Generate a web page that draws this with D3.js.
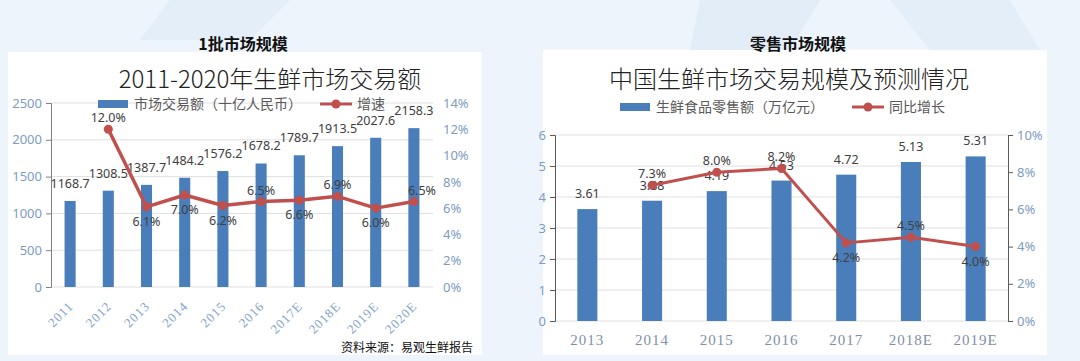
<!DOCTYPE html>
<html><head><meta charset="utf-8">
<script src="https://cdn.jsdelivr.net/npm/d3@7"></script>
<style>
html,body{margin:0;padding:0;background:#edf4fb;}
svg{display:block;}
</style></head>
<body>
<svg id="c" width="1080" height="361"></svg>
<script>
// ---- Data: left chart (wholesale market) ----
const leftYears = ["2011","2012","2013","2014","2015","2016","2017E","2018E","2019E","2020E"];
const leftValues = [1168.7,1308.5,1387.7,1484.2,1576.2,1678.2,1789.7,1913.5,2027.6,2158.3];
const leftGrowth = [null,12.0,6.1,7.0,6.2,6.5,6.6,6.9,6.0,6.5];
const leftGrowthLabelPos = [null,"above","below","below","below","above","below","above","below","right"];
const leftTicksL = [0,500,1000,1500,2000,2500];
const leftTicksR = [0,2,4,6,8,10,12,14];

// ---- Data: right chart (retail market) ----
const rightYears = ["2013","2014","2015","2016","2017","2018E","2019E"];
const rightValues = [3.61,3.88,4.19,4.53,4.72,5.13,5.31];
const rightGrowth = [null,7.3,8.0,8.2,4.2,4.5,4.0];
const rightGrowthLabelPos = [null,"above","above","above","below","above","below"];
const rightTicksL = [0,1,2,3,4,5,6];
const rightTicksR = [0,2,4,6,8,10];

const BAR = "#4a7ebb", LINE = "#c0504d", LBL = "#404040", AX = "#7d9cc2";
const SANS = "'Noto Sans','Open Sans',sans-serif";
const CJK = "'Noto Sans CJK SC','Noto Sans',sans-serif";
const SERIF = "'Liberation Serif','DejaVu Serif',serif";

const svg = d3.select("#c");

// background decoration
svg.append("rect").attr("width",1080).attr("height",361).attr("fill","#edf4fb");
svg.append("polygon").attr("points","170,0 290,0 250,40 140,40").attr("fill","#e3eef8");
svg.append("polygon").attr("points","700,0 820,0 790,50 690,50").attr("fill","#e2edf8");
svg.append("polygon").attr("points","890,0 1010,0 1040,50 930,50").attr("fill","#e4eef8");

// panels
svg.append("rect").attr("x",8).attr("y",52).attr("width",474).attr("height",303).attr("fill","#ffffff");
svg.append("rect").attr("x",543).attr("y",50).attr("width",504).attr("height",305).attr("fill","#ffffff");

// top titles
svg.append("text").attr("x",243).attr("y",50).attr("text-anchor","middle")
  .style("font-family",CJK).style("font-weight","bold").style("font-size","16px").attr("fill","#111").text("1批市场规模");
svg.append("text").attr("x",798).attr("y",50).attr("text-anchor","middle")
  .style("font-family",CJK).style("font-weight","bold").style("font-size","16px").attr("fill","#111").text("零售市场规模");

function drawChart(cfg){
  const g = svg.append("g");
  const x = d3.scaleBand().domain(cfg.years).range(cfg.xRange).padding(0);
  const yL = d3.scaleLinear().domain(cfg.lDomain).range(cfg.yRange);
  const yR = d3.scaleLinear().domain(cfg.rDomain).range(cfg.yRange);
  const cx = d => x(d) + x.bandwidth()/2;
  const bw = x.bandwidth()*cfg.barFrac;

  // gridlines
  g.append("g").selectAll("line").data(cfg.ticksL).join("line")
    .attr("x1",cfg.xRange[0]).attr("x2",cfg.xRange[1])
    .attr("y1",d=>yL(d)).attr("y2",d=>yL(d))
    .attr("stroke","#e0e0e0").attr("stroke-width",1);

  // left axis
  const axL = g.append("g").attr("transform",`translate(${cfg.xRange[0]},0)`)
    .call(d3.axisLeft(yL).tickValues(cfg.ticksL).tickFormat(d3.format("d")).tickSize(5).tickPadding(4));
  axL.select(".domain").attr("stroke",cfg.axisColor);
  axL.selectAll(".tick line").attr("stroke",cfg.axisColor);
  axL.selectAll("text").attr("fill",AX).style("font-family",SANS).style("font-size","13px");

  // right axis
  const axR = g.append("g").attr("transform",`translate(${cfg.rightAxisX},0)`)
    .call(d3.axisRight(yR).tickValues(cfg.ticksR).tickFormat(d=>d+"%").tickSize(cfg.rightTick).tickPadding(cfg.rightPad));
  axR.select(".domain").attr("stroke",cfg.rightLine ? cfg.axisColor : "none");
  axR.selectAll(".tick line").attr("stroke",cfg.rightLine ? cfg.axisColor : "none");
  axR.selectAll("text").attr("fill",AX).style("font-family",SANS).style("font-size","13px");

  // bars
  g.append("g").selectAll("rect").data(cfg.values).join("rect")
    .attr("x",(d,i)=>cx(cfg.years[i])-bw/2).attr("width",bw)
    .attr("y",d=>yL(d)).attr("height",d=>yL(0)-yL(d)).attr("fill",BAR);

  // bar labels
  g.append("g").selectAll("text").data(cfg.values).join("text")
    .attr("x",(d,i)=>cx(cfg.years[i])).attr("y",d=>yL(d)-cfg.barLblOff)
    .attr("text-anchor","middle").attr("fill",LBL)
    .style("font-family",SANS).style("font-size","12.5px")
    .text(d=>cfg.fmt(d));

  // x labels
  const xl = g.append("g").selectAll("text").data(cfg.years).join("text").attr("fill",cfg.xColor)
    .style("font-family",SERIF).style("font-size",cfg.xFont).style("letter-spacing","1px").text(d=>d);
  if(cfg.rotate){
    xl.attr("text-anchor","end").attr("transform",d=>`translate(${cx(d)+4},${cfg.yRange[0]+20}) rotate(-45)`);
  } else {
    xl.attr("text-anchor","middle").attr("x",d=>cx(d)).attr("y",cfg.yRange[0]+24);
  }

  // line
  const pts = cfg.growth.map((v,i)=>({v,i})).filter(d=>d.v!==null);
  g.append("path").datum(pts)
    .attr("d",d3.line().x(d=>cx(cfg.years[d.i])).y(d=>yR(d.v)))
    .attr("fill","none").attr("stroke",LINE).attr("stroke-width",cfg.lineW).attr("stroke-linejoin","round");
  g.append("g").selectAll("circle").data(pts).join("circle")
    .attr("cx",d=>cx(cfg.years[d.i])).attr("cy",d=>yR(d.v)).attr("r",4.5).attr("fill",LINE);
  g.append("g").selectAll("text").data(pts).join("text")
    .attr("x",d=>cx(cfg.years[d.i]) + (cfg.pos[d.i]==="right"?8:0))
    .attr("y",d=>yR(d.v) + (cfg.pos[d.i]==="below"?19:-7))
    .attr("text-anchor","middle").attr("fill",LBL)
    .style("font-family",SANS).style("font-size","12.5px")
    .text(d=>d.v.toFixed(1)+"%");

  // subtitle
  svg.append("text").attr("x",cfg.titleX).attr("y",88).attr("text-anchor","middle")
    .style("font-family",CJK).style("font-weight","300").style("font-size","24px").attr("fill","#222")
    .text(cfg.title);

  // legend
  const lg = svg.append("g").attr("transform",`translate(0,${cfg.legY})`);
  lg.append("rect").attr("x",cfg.leg[0]).attr("y",-4).attr("width",30).attr("height",8).attr("fill",BAR);
  lg.append("text").attr("x",cfg.leg[0]+36).attr("y",5).style("font-family",CJK).style("font-size","14px")
    .attr("fill","#595959").text(cfg.legText[0]);
  lg.append("line").attr("x1",cfg.leg[1]).attr("x2",cfg.leg[1]+32).attr("y1",0).attr("y2",0)
    .attr("stroke",LINE).attr("stroke-width",3);
  lg.append("circle").attr("cx",cfg.leg[1]+16).attr("cy",0).attr("r",4.5).attr("fill",LINE);
  lg.append("text").attr("x",cfg.leg[1]+37).attr("y",5).style("font-family",CJK).style("font-size","14px")
    .attr("fill","#595959").text(cfg.legText[1]);
}

drawChart({
  years:leftYears, values:leftValues, growth:leftGrowth, pos:leftGrowthLabelPos,
  ticksL:leftTicksL, ticksR:leftTicksR,
  xRange:[51,433], yRange:[287,103], lDomain:[0,2500], rDomain:[0,14],
  rightAxisX:433, rightTick:0, rightPad:10, rightLine:false, axisColor:"#808080",
  barFrac:0.29, barLblOff:13, fmt:d=>d.toFixed(1),
  rotate:true, xColor:"#7fa3cc", xFont:"13px", lineW:3.5,
  title:"2011-2020年生鲜市场交易额", titleX:270,
  legY:104, leg:[98,320], legText:["市场交易额（十亿人民币）","增速"]
});

drawChart({
  years:rightYears, values:rightValues, growth:rightGrowth, pos:rightGrowthLabelPos,
  ticksL:rightTicksL, ticksR:rightTicksR,
  xRange:[555,1008], yRange:[321,135], lDomain:[0,6], rDomain:[0,10],
  rightAxisX:1008, rightTick:5, rightPad:4, rightLine:true, axisColor:"#595959",
  barFrac:0.31, barLblOff:11, fmt:d=>d.toFixed(2),
  rotate:false, xColor:"#7f8fa8", xFont:"15px", lineW:3,
  title:"中国生鲜市场交易规模及预测情况", titleX:789,
  legY:107, leg:[620,852], legText:["生鲜食品零售额（万亿元）","同比增长"]
});

// source note
svg.append("text").attr("x",473).attr("y",352).attr("text-anchor","end")
  .style("font-family",CJK).style("font-size","12px").attr("fill","#111").text("资料来源：易观生鲜报告");
</script>
</body></html>
